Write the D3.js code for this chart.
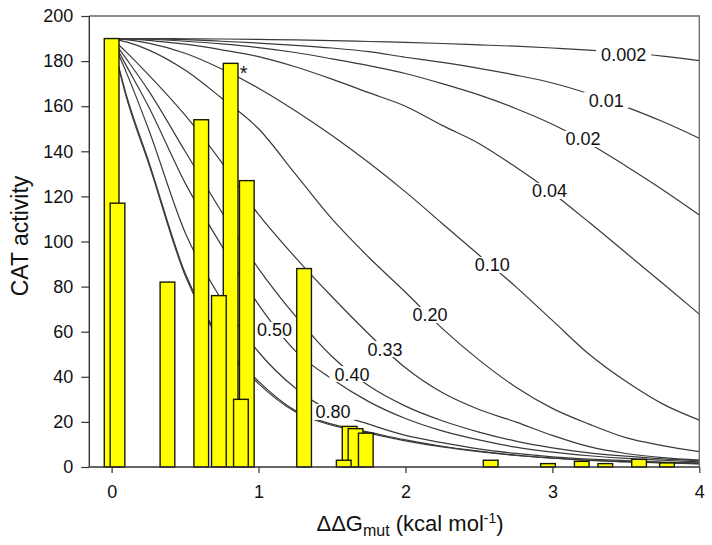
<!DOCTYPE html>
<html><head><meta charset="utf-8">
<script src="https://cdn.jsdelivr.net/npm/d3@7"></script>
<style>
body{margin:0;background:#fff;}
text{font-family:"Liberation Sans",Arial,sans-serif;fill:#111;}
</style></head>
<body><svg id="c" width="712" height="545"></svg>
<script>
// ---- data ----
const barX   = [0, 0.04, 0.38, 0.61, 0.81, 0.92, 0.73, 0.88, 1.31, 1.62, 1.66, 1.73, 1.58, 2.58, 2.97, 3.2, 3.36, 3.59, 3.78];
const barVal = [190, 117, 82, 154, 179, 127, 76, 30, 88, 18, 17, 15, 3, 3, 1.5, 2.5, 1.5, 3.4, 1.8];
const barWidth = 0.1;

const curveX = [0, 0.1, 0.25, 0.5, 0.75, 1, 1.25, 1.5, 1.75, 2, 2.25, 2.5, 2.75, 3, 3.25, 3.5, 3.75, 4];
const c0002 = [190, 190, 190, 189.9, 189.8, 189.6, 189.4, 189.1, 188.7, 188.3, 187.8, 187.2, 186.6, 185.8, 184.9, 183.7, 182.2, 180.2];
const c001  = [190, 190, 189.9, 189.5, 188.8, 188, 187, 185.8, 184.2, 181.7, 179.4, 176.8, 173.8, 170.3, 165.5, 159.7, 153.2, 145.8];
const c002  = [190, 190, 189.7, 188.8, 187.6, 186, 183.8, 181, 178, 174.5, 170, 165, 159, 152, 143.5, 133.5, 123, 111.8];
const c004  = [190, 189.8, 189.2, 187.5, 185, 182, 177.5, 172, 166, 160, 151.5, 143.5, 133, 121.5, 108.5, 95, 81.5, 67.8];
const c010  = [190, 189.5, 188, 183.5, 176.5, 168, 158, 147, 135, 122, 108, 94, 80, 65, 50, 38, 28, 20.8];
const c020  = [190, 188.5, 185, 176, 163.5, 150, 130, 110, 93, 77.5, 61.5, 47.5, 35.5, 26, 19, 13, 9.5, 6.8];
const c033  = [190, 184, 174, 156, 135, 112, 93, 75.5, 59, 44, 33, 25.5, 20, 14, 9, 6, 4.2, 3.1];
const c040  = [190, 181, 167, 140, 113, 88, 67, 49, 36, 27, 20.5, 15.5, 11.5, 8.5, 6.3, 4.8, 3.6, 2.8];
const c050  = [190, 178, 160, 126, 98, 72, 51.5, 39, 29, 21.5, 16, 12, 8.8, 6.6, 5, 3.8, 3, 2.3];
const c080  = [190, 175, 150, 104, 74, 51, 35, 24.5, 19, 14, 10.8, 8, 6, 4.5, 3.5, 2.8, 2.2, 1.8];
const c090  = [190, 165, 136, 86, 56, 38, 25, 19, 15.5, 12, 9.2, 7, 5.3, 4, 3, 2.4, 1.9, 1.5];
const c095  = [190, 164, 135, 85, 55, 37, 24.5, 18.5, 15, 11.6, 8.9, 6.8, 5.1, 3.9, 2.9, 2.3, 1.8, 1.4];
const curves = [c0002, c001, c002, c004, c010, c020, c033, c040, c050, c080, c090, c095];

const labelText = ["0.002", "0.01", "0.02", "0.04", "0.10", "0.20", "0.33", "0.40", "0.50", "0.80"];
const labelX    = [3.485, 3.366, 3.209, 2.981, 2.59, 2.167, 1.861, 1.636, 1.109, 1.507];
const labelVal  = [182.7, 162.7, 145.5, 122.4, 89.6, 67.4, 52.3, 41.2, 60.75, 24.4];

const xTicks = [0, 1, 2, 3, 4];
const yTicks = [0, 20, 40, 60, 80, 100, 120, 140, 160, 180, 200];

// ---- chart ----
const svg = d3.select("#c");
const L = 89.3, R = 699.3, T = 16, B = 467;
const x = d3.scaleLinear().domain([-0.152, 4]).range([L, R]);
const y = d3.scaleLinear().domain([0, 200]).range([B, T]);

// curves
const line = d3.line().x((d, i) => x(curveX[i])).y(d => y(d)).curve(d3.curveMonotoneX);
svg.append("g").selectAll("path").data(curves).join("path")
  .attr("d", d => line(d))
  .attr("fill", "none").attr("stroke", "#3a3a3a").attr("stroke-width", 1.2);

// curve labels (behind the bars)
const lg = svg.append("g");
labelText.forEach((t, i) => {
  const g = lg.append("g").attr("transform", `translate(${x(labelX[i])},${y(labelVal[i])})`);
  const tx = g.append("text").attr("text-anchor", "middle").attr("dy", "0.36em")
    .attr("font-size", 18).text(t);
  const bb = tx.node().getBBox();
  g.insert("rect", "text").attr("x", bb.x - 5).attr("y", -8).attr("width", bb.width + 10)
    .attr("height", 16).attr("fill", "#fff");
});

// bars
svg.append("g").selectAll("rect").data(barX).join("rect")
  .attr("x", (d) => x(d - barWidth / 2))
  .attr("width", x(barWidth) - x(0))
  .attr("y", (d, i) => y(barVal[i]))
  .attr("height", (d, i) => y(0) - y(barVal[i]))
  .attr("fill", "#ffff00").attr("stroke", "#1a1a00").attr("stroke-width", 1.4);

// asterisk
svg.append("text").attr("x", x(0.81) + 9).attr("y", y(179) + 17)
  .attr("font-size", 20).text("*");

// frame
svg.append("path").attr("d", `M${L},${T}H${R}V${B}`).attr("fill", "none")
  .attr("stroke", "#666").attr("stroke-width", 1.3);

// axes
const xAxis = d3.axisBottom(x).tickValues(xTicks).tickSize(6).tickPadding(12).tickFormat(d3.format("d"));
const gx = svg.append("g").attr("transform", `translate(0,${B})`).call(xAxis);
gx.select(".domain").attr("stroke", "#333").attr("stroke-width", 1.4).attr("d", `M${L},0H${R}`);
gx.selectAll("line").attr("stroke", "#333").attr("stroke-width", 1.2);
gx.selectAll("text").attr("font-size", 18).attr("font-family", "Liberation Sans, Arial").attr("fill", "#111");

const yAxis = d3.axisLeft(y).tickValues(yTicks).tickSize(8).tickPadding(8);
const gy = svg.append("g").attr("transform", `translate(${L},0)`).call(yAxis);
gy.select(".domain").attr("stroke", "#333").attr("stroke-width", 1.4).attr("d", `M0,${T}V${B}`);
gy.selectAll("line").attr("stroke", "#333").attr("stroke-width", 1.2);
gy.selectAll("text").attr("font-size", 18).attr("font-family", "Liberation Sans, Arial").attr("fill", "#111");

// axis titles
svg.append("text").attr("transform", `translate(28,236) rotate(-90)`)
  .attr("text-anchor", "middle").attr("font-size", 23).text("CAT activity");

const xt = svg.append("text").attr("x", 410).attr("y", 531).attr("text-anchor", "middle").attr("font-size", 22);
xt.append("tspan").text("ΔΔG");
xt.append("tspan").attr("font-size", 16).attr("dy", 5).text("mut");
xt.append("tspan").attr("dy", -5).text(" (kcal mol");
xt.append("tspan").attr("font-size", 14).attr("dy", -8).text("-1");
xt.append("tspan").attr("dy", 8).text(")");
</script></body></html>
